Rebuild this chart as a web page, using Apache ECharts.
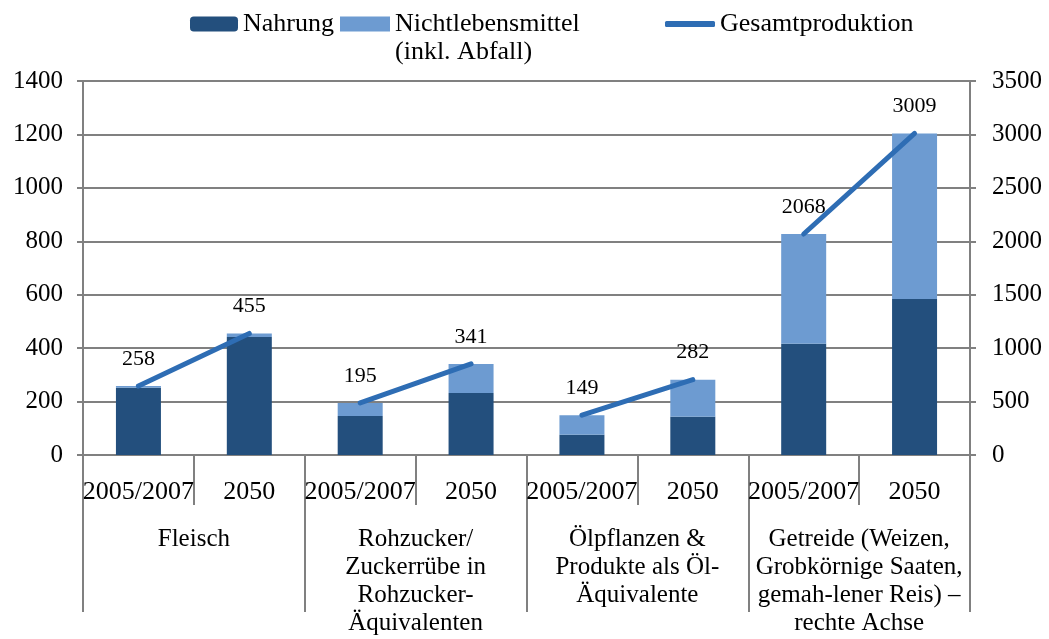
<!DOCTYPE html>
<html>
<head>
<meta charset="utf-8">
<script src="https://cdn.jsdelivr.net/npm/echarts@6/dist/echarts.min.js"></script>
<style>
  html, body { margin: 0; padding: 0; background: #fff; }
  #chart { width: 1049px; height: 639px; }
</style>
</head>
<body>
<div id="chart"></div>
<script>
// Kategorien und Gruppen
const categories = ['2005/2007', '2050', '2005/2007', '2050', '2005/2007', '2050', '2005/2007', '2050'];
const groups = [
  'Fleisch',
  'Rohzucker/\nZuckerrübe in\nRohzucker-\nÄquivalenten',
  'Ölpflanzen &\nProdukte als Öl-\nÄquivalente',
  'Getreide (Weizen,\nGrobkörnige Saaten,\ngemah-lener Reis) –\nrechte Achse'
];
// Getreide (letzte Gruppe) wird auf der rechten Achse gezeichnet
const rightAxisGroup = 3;

const nahrung = [252, 442, 146, 232, 76, 143, 1040, 1460];
const nichtLebensmittel = [6, 13, 49, 109, 73, 139, 1028, 1549];
const gesamt = [258, 455, 195, 341, 149, 282, 2068, 3009];

const leftTicks = [0, 1400, 200];
const rightTicks = [0, 3500, 500];

const font = 'Liberation Serif';
const darkBlue = '#234f7d';
const lightBlue = '#6d9bd1';
const lineBlue = '#2e6db4';
const grey = '#808080';

function forAxis(values, right) {
  return values.map((v, i) => (Math.floor(i / 2) === rightAxisGroup) === right ? v : '-');
}

const series = [];
[false, true].forEach(right => {
  series.push({
    name: 'Nahrung', type: 'bar', stack: right ? 'R' : 'L', yAxisIndex: right ? 1 : 0,
    barWidth: 45, barGap: '-100%', itemStyle: { color: darkBlue },
    data: forAxis(nahrung, right)
  });
  series.push({
    name: 'Nichtlebensmittel\n(inkl. Abfall)', type: 'bar', stack: right ? 'R' : 'L', yAxisIndex: right ? 1 : 0,
    barWidth: 45, barGap: '-100%', itemStyle: { color: lightBlue },
    data: forAxis(nichtLebensmittel, right)
  });
});

// Gesamtproduktion: je Gruppe ein eigenes Liniensegment
groups.forEach((g, gi) => {
  series.push({
    name: 'Gesamtproduktion', type: 'line', yAxisIndex: gi === rightAxisGroup ? 1 : 0,
    symbol: 'circle', symbolSize: 2, color: lineBlue,
    lineStyle: { width: 5, color: lineBlue, cap: 'round' },
    label: { show: true, position: 'top', distance: 15, color: '#000', fontFamily: font, fontSize: 22 },
    data: gesamt.map((v, i) => Math.floor(i / 2) === gi ? v : '-'),
    z: 5
  });
});

const legendText = { fontFamily: font, fontSize: 26, lineHeight: 28, color: '#000' };

const chart = echarts.init(document.getElementById('chart'));
chart.setOption({
  animation: false,
  textStyle: { fontFamily: font },
  grid: { left: 83, right: 79, top: 81, bottom: 184 },
  legend: [
    {
      data: ['Nahrung'], left: 190, top: 10, padding: 0, itemWidth: 48, itemHeight: 15,
      textStyle: legendText
    },
    {
      // Symbol oben im Feld, damit es auf Höhe der ersten Textzeile sitzt
      data: [{ name: 'Nichtlebensmittel\n(inkl. Abfall)', icon: 'path://M0,0L50,0L50,15L0,15Z M0,43L0.01,43' }],
      left: 340, top: 10, padding: 0, itemWidth: 50, itemHeight: 43,
      textStyle: legendText
    },
    {
      data: [{ name: 'Gesamtproduktion', icon: 'roundRect' }], left: 665, top: 10, padding: 0,
      itemWidth: 50, itemHeight: 6,
      textStyle: legendText
    }
  ],
  xAxis: [
    {
      type: 'category', data: categories, position: 'bottom',
      axisLine: { show: true, onZero: false, lineStyle: { color: grey, width: 2 } },
      axisTick: { show: true, interval: 0, length: 50, lineStyle: { color: grey, width: 2 } },
      axisLabel: { interval: 0, margin: 24, fontFamily: font, fontSize: 26, color: '#000' }
    },
    {
      type: 'category', data: groups, position: 'bottom',
      axisLine: { show: false },
      axisTick: { show: true, interval: 0, length: 157, lineStyle: { color: grey, width: 2 } },
      axisLabel: { interval: 0, margin: 70, fontFamily: font, fontSize: 25, lineHeight: 28, color: '#000' }
    }
  ],
  yAxis: [
    {
      type: 'value', min: leftTicks[0], max: leftTicks[1], interval: leftTicks[2],
      axisLine: { show: true, lineStyle: { color: grey, width: 2 } },
      axisTick: { show: true, length: 6, lineStyle: { color: grey, width: 2 } },
      axisLabel: { margin: 20, fontFamily: font, fontSize: 25, color: '#000', formatter: v => String(v) },
      splitLine: { show: true, lineStyle: { color: grey, width: 2 } }
    },
    {
      type: 'value', position: 'right', min: rightTicks[0], max: rightTicks[1], interval: rightTicks[2],
      axisLine: { show: true, lineStyle: { color: grey, width: 2 } },
      axisTick: { show: true, length: 6, lineStyle: { color: grey, width: 2 } },
      axisLabel: { margin: 22, fontFamily: font, fontSize: 25, color: '#000', formatter: v => String(v) },
      splitLine: { show: false }
    }
  ],
  series: series
});

window.addEventListener('resize', function () {
  chart.resize();
});
</script>
</body>
</html>
